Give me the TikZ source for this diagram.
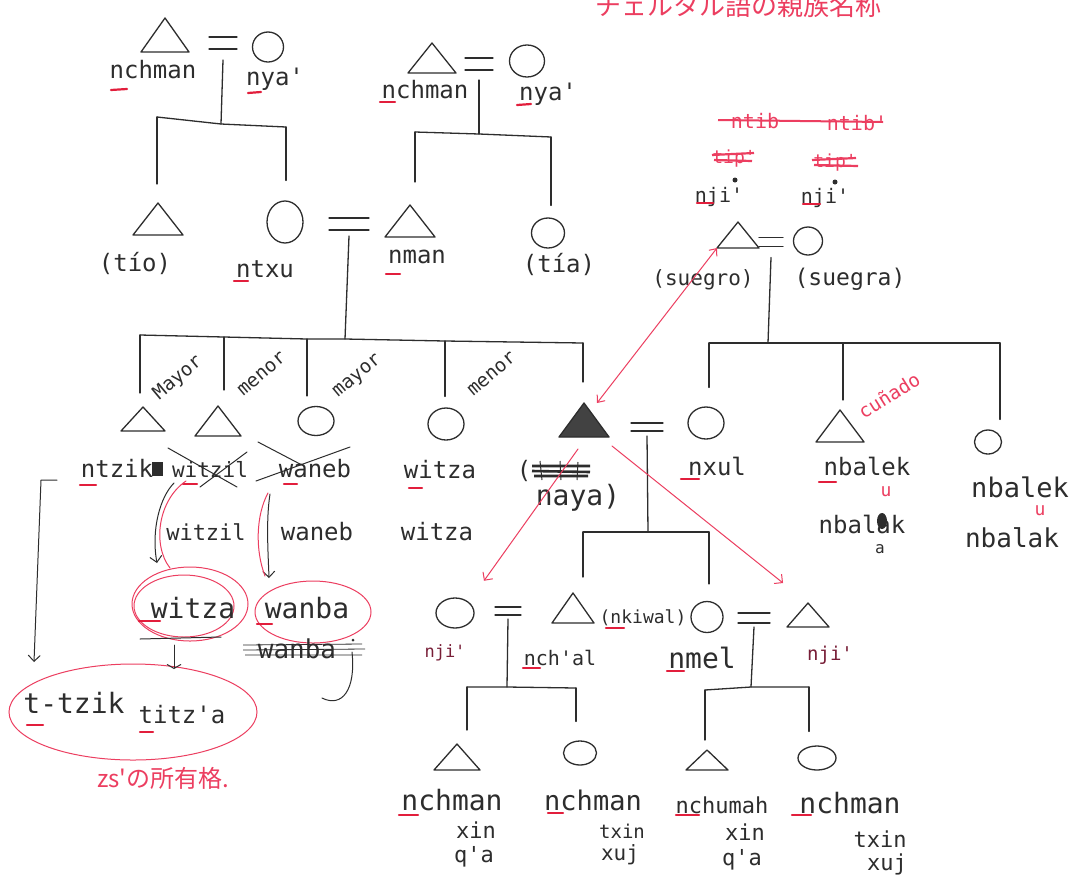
\documentclass[tikz,border=0pt]{standalone}
\usepackage{fontspec}
\setmainfont{DejaVu Sans Mono}[Ligatures=TeXOff]
\newfontfamily\jpf{Noto Sans CJK JP}
\usetikzlibrary{arrows.meta,shapes.geometric,calc}
\newcommand\myap{'}
\definecolor{ink}{RGB}{45,45,45}
\definecolor{pen}{RGB}{236,62,96}
\definecolor{uln}{RGB}{226,30,60}
\definecolor{dpen}{RGB}{120,30,55}
\tikzset{
  ln/.style={draw=ink,line width=1.3pt,line cap=round,line join=round},
  thin/.style={draw=ink,line width=1pt,line cap=round,line join=round},
  rl/.style={draw=pen,line width=1pt,line cap=round,line join=round},
  lb/.style={font=\fontsize{#1}{#1}\selectfont,text=ink,inner sep=0pt,anchor=base},
  lb/.default=24,
  rlb/.style={font=\fontsize{#1}{#1}\selectfont,text=pen,inner sep=0pt,anchor=base},
  rlb/.default=20,
  fem/.style 2 args={ellipse,draw=ink,line width=1.3pt,minimum width=#1,minimum height=#2,inner sep=0pt},
  ring/.style 2 args={ellipse,draw=pen,line width=1pt,minimum width=#1,minimum height=#2,inner sep=0pt},
  ul/.style={draw=uln,line width=2.2pt,line cap=round},
  arr/.style={-{Straight Barb[length=6pt,width=12pt]}},
  tri/.pic={\draw[ln] (-1,1) -- (0,-1) -- (1,1) -- cycle;
            \coordinate (-apex) at (0,-1); \coordinate (-bl) at (-1,1); \coordinate (-br) at (1,1);},
  trif/.pic={\filldraw[ln,fill=ink!90] (-1,1) -- (0,-1) -- (1,1) -- cycle;
            \coordinate (-apex) at (0,-1); \coordinate (-bl) at (-1,1); \coordinate (-br) at (1,1);},
  eqs/.pic={\draw[ln] (-1,-1) -- (1,-1) (-1,1) -- (1,1); \coordinate (-mid) at (0,1);},
}
\begin{document}
\begin{tikzpicture}[x=1pt,y=-1pt]
\useasboundingbox (0,0) rectangle (1081,892);
\fill[white] (0,0) rectangle (1081,892);

% clipped red heading
\node[font=\jpf\fontsize{26}{26}\selectfont,text=pen,inner sep=0pt,anchor=base] (head) at (738,15) {チェルタル語の親族名称};

% ---------- symbols ----------
\pic[xscale=24,yscale=17] (gf1) at (165,35) {tri};
\pic[xscale=14,yscale=6] (e1) at (223,43) {eqs};
\node[fem={31pt}{30pt}] (gm1) at (268,47) {};
\pic[xscale=24,yscale=15] (gf2) at (432,58) {tri};
\pic[xscale=14,yscale=6] (e2) at (479,64) {eqs};
\node[fem={35pt}{32pt}] (gm2) at (527,61) {};
\pic[xscale=25,yscale=16] (tio) at (158,219) {tri};
\node[fem={36pt}{42pt}] (ntxu) at (285,222) {};
\pic[xscale=20,yscale=6] (e3) at (349,224) {eqs};
\pic[xscale=25,yscale=16] (nman) at (410,221) {tri};
\node[fem={33pt}{30pt}] (tia) at (548,233) {};
\pic[xscale=21,yscale=13] (sg) at (738,235) {tri};
\pic[xscale=12,yscale=4.5] (e7) at (771,242) {eqs};
\node[fem={29pt}{28pt}] (sga) at (808,241) {};
\pic[xscale=22,yscale=12] (t1) at (143,419) {tri};
\pic[xscale=23,yscale=15] (t2) at (218,421) {tri};
\node[fem={36pt}{29pt}] (c3) at (316,421) {};
\node[fem={36pt}{32pt}] (c4) at (446,424) {};
\pic[xscale=25,yscale=17] (ego) at (584,420) {trif};
\pic[xscale=16,yscale=4] (e4) at (647,427) {eqs};
\node[fem={36pt}{32pt}] (nxul) at (706,423) {};
\pic[xscale=24,yscale=16] (cun) at (840,426) {tri};
\node[fem={27pt}{24pt}] (c9) at (988,442) {};
\node[fem={38pt}{30pt}] (njL) at (455,613) {};
\pic[xscale=13,yscale=4] (e5) at (508,611) {eqs};
\pic[xscale=21,yscale=15] (nch) at (573,608) {tri};
\node[fem={32pt}{31pt}] (nmel) at (707,617) {};
\pic[xscale=16,yscale=5] (e6) at (754,618) {eqs};
\pic[xscale=21,yscale=12] (njR) at (808,615) {tri};
\pic[xscale=23,yscale=13] (ka) at (457,757) {tri};
\node[fem={33pt}{24pt}] (kb) at (580,753) {};
\pic[xscale=21,yscale=10] (kc) at (707,760) {tri};
\node[fem={38pt}{24pt}] (kd) at (817,758) {};

% ---------- connectors ----------
\coordinate (b1m) at (221,124); \coordinate (b1l) at (157,117); \coordinate (b1r) at (286,127);
\draw[ln] ([yshift=-11pt]e1-mid) -- (b1m);
\draw[ln] (b1l) -- (b1m) -- (b1r);
\draw[ln,shorten >=19pt] (b1l) -- (b1l |- tio-apex);
\draw[ln,shorten >=20pt] (b1r) -- (b1r |- ntxu.north);

\coordinate (b2m) at (479,134); \coordinate (b2l) at (415,132); \coordinate (b2r) at (551,137);
\draw[ln] ([yshift=-10pt]e2-mid) -- (b2m);
\draw[ln] (b2l) -- (b2m) -- (b2r);
\draw[ln,shorten >=23pt] (b2l) -- (b2l |- nman-apex);
\draw[ln,shorten >=12pt] (b2r) -- (b2r |- tia.north);

\coordinate (s0) at (345,339);
\path (140,335) coordinate (s1) (224,337) coordinate (s2) (307,339) coordinate (s3)
      (445,341) coordinate (s4) (583,343) coordinate (s5);
\draw[ln] ([yshift=-6pt]e3-mid) -- (s0);
\draw[ln] (s1) -- (s2) -- (s3) -- (s0) -- (s4) -- (s5);
\draw[ln,shorten >=14pt] (s1) -- (s1 |- t1-apex);
\draw[ln,shorten >=16pt] (s2) -- (s2 |- t2-apex);
\draw[ln,shorten >=10pt] (s3) -- (s3 |- c3.north);
\draw[ln,shorten >=11pt] (s4) -- (s4 |- c4.north);
\draw[ln,shorten >=21pt] (s5) -- (s5 |- ego-apex);

\coordinate (r0) at (768,343);
\path (709,343) coordinate (r1) (843,343) coordinate (r2) (1000,343) coordinate (r3);
\draw[ln] ([yshift=-11pt]e7-mid) -- (r0);
\draw[ln] (r1) -- (r0) -- (r2) -- (r3);
\draw[ln,shorten >=19pt] (r1) -- (r1 |- nxul.north);
\draw[ln,shorten >=10pt] (r2) -- (r2 |- cun-apex);
\draw[ln,shorten >=10pt] (r3) -- (r3 |- c9.north);

\coordinate (n0) at (648,532);
\path (583,532) coordinate (n1) (709,532) coordinate (n2);
\draw[ln] ([yshift=-5pt]e4-mid) -- (n0);
\draw[ln] (n1) -- (n0) -- (n2);
\draw[ln,shorten >=16pt] (n1) -- (n1 |- nch-apex);
\draw[ln,shorten >=17pt] (n2) -- (n2 |- nmel.north);

\coordinate (p0) at (507,687);
\path (467,687) coordinate (p1) (576,688) coordinate (p2);
\draw[ln] ([yshift=-4pt]e5-mid) -- (p0);
\draw[ln] (p1) -- (p0) -- (p2);
\draw[ln,shorten >=14pt] (p1) -- (p1 |- ka-apex);
\draw[ln,shorten >=19pt] (p2) -- (p2 |- kb.north);

\coordinate (q0) at (751,687);
\path (705,690) coordinate (q1) (809,687) coordinate (q2);
\draw[ln] ([yshift=-4pt]e6-mid) -- (q0);
\draw[ln] (q1) -- (q0) -- (q2);
\draw[ln,shorten >=10pt] (q1) -- (q1 |- kc-apex);
\draw[ln,shorten >=14pt] (q2) -- (q2 |- kd.north);

% ---------- labels ----------
\node[lb] (l1) at (153,78) {nchman};
\node[lb] (l2) at (275,85) {nya\myap};
\draw[ul] (111,90) -- (127,89);
\draw[ul] (248,93) -- (261,92);
\node[lb] (l3) at (425,98) {nchman};
\node[lb] (l4) at (548,100) {nya\myap};
\draw[ul] (380,102) -- (395,102);
\draw[ul] (517,105) -- (531,104);
\node[lb] (l5) at (135,271) {(tío)};
\node[lb] (l6) at (265,277) {ntxu};
\draw[ul] (234,281) -- (248,281);
\node[lb] (l7) at (417,263) {nman};
\draw[ul] (386,274) -- (400,274);
\node[lb] (l8) at (559,272) {(tía)};

\node[rlb=20] (x1) at (755,128) {ntib};
\node[rlb=20] (x2) at (857,130) {ntib\myap};
\draw[pen,line width=2pt] (718,120) -- (883,122);
\node[rlb=18] (x3) at (734,163) {tip\myap};
\node[rlb=18] (x4) at (835,167) {tip\myap};
\draw[pen,line width=2.2pt] (712,155) -- (754,153) (714,160) -- (752,161);
\draw[pen,line width=2.2pt] (812,160) -- (856,158) (814,165) -- (858,166);
\fill[ink] (735,180) circle (2.5); \fill[ink] (835,182) circle (2.5);
\node[lb=20] (l9) at (719,202) {nji\myap};
\node[lb=20] (l10) at (825,203) {nji\myap};
\draw[ul] (697,203) -- (713,203);
\draw[ul] (803,204) -- (820,204);
\node[lb=21] (l11) at (703,285) {(suegro)};
\node[lb=23] (l12) at (850,285) {(suegra)};

\node[lb=19,rotate=40,anchor=center] (m1) at (178,378) {Mayor};
\node[lb=19,rotate=40,anchor=center] (m2) at (262,374) {menor};
\node[lb=19,rotate=40,anchor=center] (m3) at (358,377) {mayor};
\node[lb=19,rotate=40,anchor=center] (m4) at (492,374) {menor};
\node[rlb=19,rotate=32,anchor=center] (cu) at (889,395) {cuñado};

\node[lb] (w0) at (117,477) {ntzik};
\draw[ul] (80,485) -- (96,485);
\fill[ink] (152,462) rectangle (163,476);
\node[lb=21] (w1) at (210,477) {witzil};
\draw[ul] (183,484) -- (197,484);
\draw[thin] (168,448) -- (237,487);
\draw[thin] (200,487) -- (247,452);
\node[lb] (w2) at (315,477) {waneb};
\draw[ul] (284,484) -- (297,484);
\draw[thin] (258,442) -- (300,464);
\draw[thin] (256,481) -- (350,447);
\node[lb] (w3) at (440,478) {witza};
\draw[ul] (409,488) -- (422,488);
\node[lb] (w4) at (524,478) {(};
\draw[ink,line width=2.6pt] (532,466) -- (590,466) (532,471) -- (590,472) (534,476) -- (588,476);
\draw[ink,line width=1pt] (540,461) -- (542,480) (560,461) -- (561,480) (578,462) -- (577,480);
\node[lb=28] (w5) at (578,505) {naya)};
\node[lb] (w6) at (717,475) {nxul};
\draw[ul] (681,479) -- (699,479);
\node[lb] (w7) at (867,475) {nbalek};
\draw[ul] (819,482) -- (836,482);
\node[rlb=18] (w8) at (886,496) {u};
\node[lb] (w9) at (862,533) {nbalak};
\fill[ink] (882,521) ellipse [x radius=5, y radius=8];
\node[lb=16] (w10) at (880,553) {a};
\node[lb=27] (w11) at (1020,497) {nbalek};
\node[rlb=18] (w12) at (1040,515) {u};
\node[lb=26] (w13) at (1012,547) {nbalak};

\node[lb=22] (v1) at (206,540) {witzil};
\node[lb] (v2) at (317,540) {waneb};
\node[lb] (v3) at (437,540) {witza};

\node[ring={116pt}{74pt}] (ew) at (190,604) {};
\draw[rl] ([xshift=-6pt,yshift=-2pt]ew.center) ellipse [x radius=50, y radius=31];
\node[ring={116pt}{62pt}] (ewb) at (313,612) {};
\node[ring={248pt}{96pt}] (et) at (133,712) {};
\node[lb=28] (wz) at (193,618) {witza};
\node[lb=28] (wb) at (307,618) {wanba};
\draw[ul] (139,621) -- (160,621);
\draw[ul] (257,624) -- (272,624);

\coordinate (a1) at (174,483); \coordinate (a1e) at (157,563);
\draw[thin,arr] (a1) .. controls (160,497) and (151,530) .. (a1e);
\coordinate (a2) at (186,481); \coordinate (a2e) at (170,568);
\draw[rl] (a2) .. controls (158,500) and (152,545) .. (a2e);
\coordinate (a3) at (270,494); \coordinate (a3e) at (269,578);
\draw[thin,arr] (a3) .. controls (266,520) and (268,550) .. (a3e);
\coordinate (a4) at (268,493); \coordinate (a4e) at (265,576);
\draw[rl] (a4) .. controls (256,515) and (255,550) .. (a4e);
\coordinate (k1) at (57,480); \coordinate (k2) at (41,480); \coordinate (k3) at (34,662);
\draw[thin,arr] (k1) -- (k2) -- (k3);

\coordinate (u1) at (140,639); \coordinate (u2) at (221,637);
\draw[thin] (u1) -- (u2);
\coordinate (u3) at (174,645); \coordinate (u4) at (174,669);
\draw[thin,-{Straight Barb[length=4pt,width=14pt]}] (u3) -- (u4);

\node[lb=26] (wj) at (297,658) {wanba};
\draw[ink,line width=0.8pt] (243,645) -- (362,644) (243,650) -- (365,649) (245,655) -- (362,655);
\coordinate (j1) at (352,652); \coordinate (j2) at (322,698);
\draw[thin] (j1) .. controls (356,690) and (342,708) .. (j2);
\fill[ink] (353,640) circle (1.5);

\node[lb=28] (tt) at (74,713) {t-tzik};
\node[lb=24] (ta) at (182,723) {titz\myap a};
\draw[ul] (27,725) -- (43,725);
\draw[ul] (140,732) -- (153,732);
\node[font=\jpf\fontsize{24}{24}\selectfont,text=pen,inner sep=0pt,anchor=base] (zs) at (163,787) {zs'の所有格.};

\node[lb=17,text=dpen] (g1) at (445,657) {nji\myap};
\node[lb=20] (g2) at (560,665) {nch\myap al};
\draw[ul] (523,668) -- (540,668);
\node[lb=18] (g3) at (643,623) {(nkiwal)};
\draw[ul] (606,628) -- (624,628);
\node[lb=28] (g4) at (702,668) {nmel};
\draw[ul] (667,671) -- (684,671);
\node[lb=19,text=dpen] (g5) at (830,660) {nji\myap};

\node[lb=28] (h1) at (452,810) {nchman};
\node[lb=22] (h2) at (476,838) {xin};
\node[lb=22] (h3) at (474,862) {q\myap a};
\draw[ul] (399,815) -- (418,815);
\node[lb=27] (h4) at (593,810) {nchman};
\node[lb=19] (h5) at (622,838) {txin};
\node[lb=21] (h6) at (620,860) {xuj};
\draw[ul] (548,813) -- (563,813);
\node[lb=22] (h7) at (722,813) {nchumah};
\node[lb=22] (h8) at (745,840) {xin};
\node[lb=22] (h9) at (742,865) {q\myap a};
\draw[ul] (676,815) -- (699,815);
\node[lb=28] (h10) at (850,813) {nchman};
\node[lb=22] (h11) at (880,847) {txin};
\node[lb=22] (h12) at (887,870) {xuj};
\draw[ul] (792,815) -- (811,815);

\draw[rl,{Straight Barb[length=6pt,width=10pt]}-{Straight Barb[length=6pt,width=10pt]}] (sg-bl) -- ([xshift=13pt]ego-apex);
\coordinate (ra1) at (578,449);
\draw[rl,arr,shorten >=26pt] (ra1) -- (njL.north east);
\coordinate (ra2) at (612,446);
\draw[rl,arr,shorten >=32pt] (ra2) -- (njR-apex);
\end{tikzpicture}
\end{document}
